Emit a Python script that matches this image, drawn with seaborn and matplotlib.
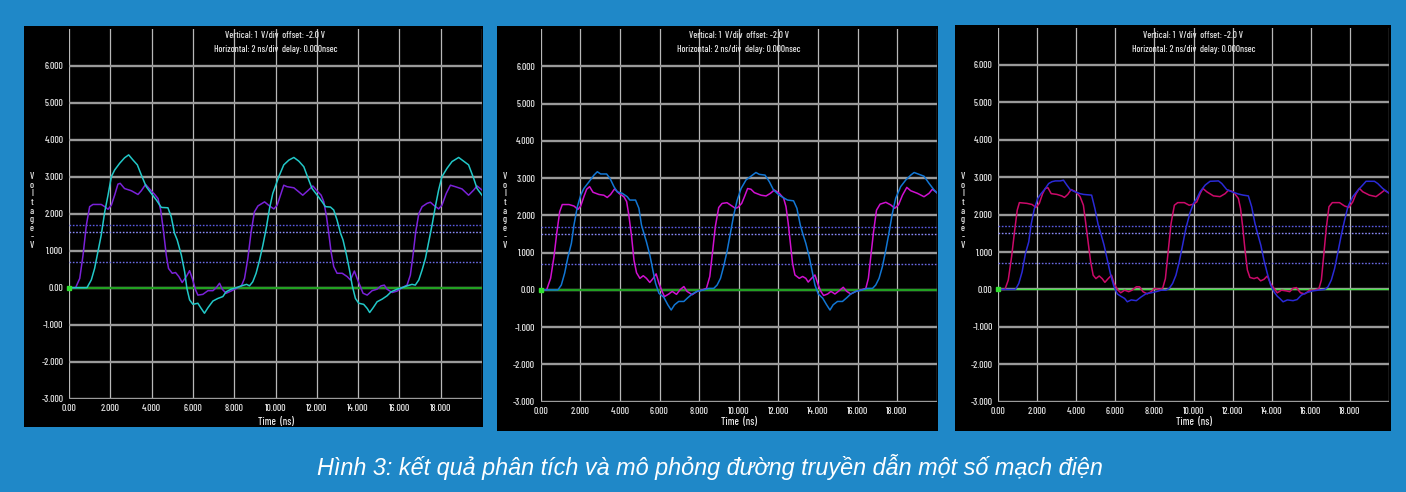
import matplotlib
matplotlib.use("Agg")
import matplotlib.pyplot as plt
from matplotlib.patches import Rectangle
import seaborn as sns
import pandas as pd

W, H = 1406, 492

# ---- axis scales -----------------------------------------------------------
X_TICKS = [0, 2, 4, 6, 8, 10, 12, 14, 16, 18]
X_GRID = [0, 2, 4, 6, 8, 10, 12, 14, 16, 18, 20]
X_LABELS = ["0.00", "2.000", "4.000", "6.000", "8.000", "10.000",
            "12.000", "14.000", "16.000", "18.000"]
Y_TICKS = [-3, -2, -1, 0, 1, 2, 3, 4, 5, 6]
Y_LABELS = ["-3.000", "-2.000", "-1.000", "0.00", "1.000", "2.000",
            "3.000", "4.000", "5.000", "6.000"]
THRESHOLDS = [1.7, 1.5, 0.7]

TITLE_1 = "Vertical: 1  V/div  offset: -2.0 V"
TITLE_2 = "Horizontal: 2 ns/div  delay: 0.000nsec"
X_TITLE = "Time  (ns)"
Y_TITLE = "Voltage - V"
CAPTION = "Hình 3: kết quả phân tích và mô phỏng đường truyền dẫn một số mạch điện"

# ---- waveforms (time ns, voltage V) ----------------------------------------
P1_NEAR = [(0, 0), (0.32, 0), (0.52, 0.25), (0.68, 0.88), (0.84, 1.69), (1.0, 2.19), (1.16, 2.25),
           (1.56, 2.25), (1.73, 2.19), (1.89, 2.12), (2.05, 2.23), (2.21, 2.5), (2.37, 2.80),
           (2.48, 2.82), (2.69, 2.68), (3.02, 2.62), (3.34, 2.52), (3.5, 2.62), (3.71, 2.79),
           (3.9, 2.67), (4.15, 2.52), (4.31, 2.41), (4.44, 2.10), (4.58, 1.51), (4.71, 0.88),
           (4.82, 0.52), (5.0, 0.39), (5.16, 0.41), (5.32, 0.30), (5.48, 0.14), (5.68, 0.30),
           (5.84, 0.46), (5.97, 0.25), (6.13, -0.06), (6.24, -0.20), (6.48, -0.18), (6.73, -0.08),
           (6.97, -0.08), (7.13, 0.0), (7.29, 0.12), (7.42, -0.04), (7.61, -0.15), (7.85, -0.09),
           (8.1, -0.02), (8.35, 0.05), (8.5, 0.25), (8.66, 0.79), (8.82, 1.51), (8.98, 2.05),
           (9.15, 2.21), (9.47, 2.32), (9.71, 2.21), (9.92, 2.13), (10.08, 2.23), (10.24, 2.5),
           (10.4, 2.77), (10.56, 2.73), (10.89, 2.70), (11.13, 2.59), (11.32, 2.5), (11.56, 2.62),
           (11.81, 2.75), (12.02, 2.61), (12.21, 2.5), (12.34, 2.32), (12.47, 1.92), (12.58, 1.47),
           (12.69, 0.97), (12.82, 0.57), (12.98, 0.39), (13.23, 0.39), (13.47, 0.30), (13.63, 0.21),
           (13.82, 0.45), (13.98, 0.21), (14.11, 0.03), (14.24, -0.15), (14.44, -0.2), (14.68, -0.08),
           (14.92, -0.04), (15.11, 0.05), (15.27, 0.07), (15.4, -0.04), (15.65, -0.13), (15.89, -0.09),
           (16.13, 0), (16.37, 0.07), (16.53, 0.34), (16.66, 0.88), (16.79, 1.51), (16.94, 2.0),
           (17.1, 2.19), (17.34, 2.28), (17.5, 2.31), (17.66, 2.23), (17.9, 2.13), (18.06, 2.23),
           (18.27, 2.55), (18.47, 2.77), (18.71, 2.73), (19.03, 2.67), (19.35, 2.5), (19.6, 2.64),
           (19.76, 2.75), (20.0, 2.64)]

P1_FAR = [(0, 0), (0.87, 0), (1.08, 0.21), (1.24, 0.52), (1.40, 0.97), (1.56, 1.42), (1.73, 2.05),
          (1.89, 2.5), (2.05, 3.0), (2.21, 3.18), (2.45, 3.36), (2.69, 3.51), (2.89, 3.59), (3.1, 3.45),
          (3.31, 3.32), (3.5, 3.05), (3.74, 2.73), (3.98, 2.55), (4.23, 2.37), (4.47, 2.17),
          (4.79, 2.16), (4.95, 1.92), (5.11, 1.47), (5.24, 1.29), (5.44, 0.88), (5.6, 0.43),
          (5.71, -0.02), (5.84, -0.33), (6.0, -0.45), (6.24, -0.42), (6.4, -0.56), (6.56, -0.69),
          (6.73, -0.54), (6.97, -0.36), (7.21, -0.29), (7.45, -0.24), (7.61, -0.11), (7.85, -0.04),
          (8.1, 0.0), (8.35, 0.05), (8.6, 0.09), (8.74, 0.05), (8.9, 0.16), (9.06, 0.39), (9.23, 0.75),
          (9.39, 1.15), (9.55, 1.6), (9.71, 2.14), (9.87, 2.55), (10.16, 3.0), (10.4, 3.32),
          (10.65, 3.45), (10.89, 3.52), (11.13, 3.42), (11.37, 3.27), (11.61, 2.91), (11.77, 2.68),
          (12.02, 2.5), (12.26, 2.32), (12.42, 2.19), (12.66, 2.18), (12.82, 2.1), (12.98, 1.83),
          (13.15, 1.47), (13.27, 1.29), (13.44, 0.88), (13.6, 0.43), (13.71, 0.07), (13.87, -0.29),
          (14.03, -0.42), (14.27, -0.45), (14.44, -0.56), (14.56, -0.67), (14.73, -0.54),
          (14.92, -0.38), (15.16, -0.31), (15.4, -0.22), (15.6, -0.11), (15.89, -0.04), (16.13, 0),
          (16.37, 0.05), (16.61, 0.09), (16.77, 0.07), (16.94, 0.21), (17.1, 0.48), (17.26, 0.79),
          (17.42, 1.24), (17.58, 1.69), (17.74, 2.19), (17.9, 2.64), (18.06, 3.0), (18.31, 3.23),
          (18.55, 3.41), (18.87, 3.52), (19.11, 3.42), (19.35, 3.32), (19.6, 2.95), (19.76, 2.68),
          (20, 2.5)]

P2_NEAR = [(0, 0), (0.3, 0), (0.5, 0.31), (0.67, 0.89), (0.81, 1.52), (0.96, 2.1), (1.09, 2.29),
           (1.43, 2.29), (1.68, 2.25), (1.88, 2.16), (2.02, 2.25), (2.18, 2.5), (2.32, 2.7),
           (2.47, 2.77), (2.64, 2.62), (2.94, 2.56), (3.19, 2.54), (3.36, 2.48), (3.53, 2.56),
           (3.73, 2.71), (3.95, 2.59), (4.2, 2.5), (4.34, 2.37), (4.45, 2.01), (4.59, 1.43),
           (4.71, 0.80), (4.84, 0.46), (5.01, 0.31), (5.18, 0.38), (5.34, 0.31), (5.51, 0.2),
           (5.68, 0.31), (5.83, 0.43), (5.97, 0.18), (6.13, -0.04), (6.25, -0.18), (6.47, -0.11),
           (6.64, -0.04), (6.86, -0.12), (7.03, 0), (7.23, 0.09), (7.39, -0.04), (7.65, -0.13),
           (7.9, -0.04), (8.15, 0), (8.37, 0.04), (8.54, 0.36), (8.69, 1.07), (8.82, 1.7),
           (8.99, 2.21), (9.16, 2.32), (9.41, 2.34), (9.66, 2.25), (9.83, 2.19), (9.95, 2.21),
           (10.15, 2.32), (10.29, 2.5), (10.45, 2.72), (10.62, 2.7), (10.79, 2.61), (11.13, 2.54),
           (11.38, 2.52), (11.6, 2.59), (11.8, 2.68), (12.05, 2.59), (12.27, 2.46), (12.39, 2.23),
           (12.5, 1.79), (12.61, 1.25), (12.72, 0.71), (12.84, 0.4), (13.06, 0.31), (13.23, 0.36),
           (13.39, 0.31), (13.51, 0.21), (13.68, 0.31), (13.85, 0.4), (14.02, 0.13), (14.15, -0.04),
           (14.29, -0.15), (14.49, -0.11), (14.66, -0.04), (14.86, -0.11), (15.08, -0.02),
           (15.28, 0.07), (15.46, -0.04), (15.66, -0.11), (15.92, -0.04), (16.17, 0), (16.42, 0.04),
           (16.55, 0.31), (16.67, 0.89), (16.81, 1.56), (16.96, 2.14), (17.14, 2.3), (17.43, 2.35),
           (17.68, 2.28), (17.88, 2.19), (18.07, 2.28), (18.27, 2.54), (18.49, 2.75), (18.69, 2.66),
           (19.03, 2.59), (19.36, 2.5), (19.61, 2.59), (19.78, 2.7), (20, 2.61)]

P2_FAR = [(0, 0), (0.87, 0), (1.04, 0.13), (1.21, 0.45), (1.38, 0.89), (1.55, 1.25), (1.68, 1.74),
          (1.85, 2.23), (2.02, 2.54), (2.18, 2.72), (2.44, 2.9), (2.69, 3.08), (2.86, 3.17),
          (3.03, 3.11), (3.33, 3.11), (3.5, 2.99), (3.7, 2.77), (3.87, 2.63), (4.12, 2.59),
          (4.37, 2.5), (4.5, 2.41), (4.79, 2.41), (4.96, 2.19), (5.09, 1.74), (5.21, 1.52),
          (5.34, 1.29), (5.51, 0.94), (5.68, 0.49), (5.8, 0.18), (5.97, -0.09), (6.22, -0.2),
          (6.42, -0.4), (6.59, -0.54), (6.76, -0.4), (6.97, -0.31), (7.23, -0.31), (7.43, -0.21),
          (7.65, -0.11), (7.9, -0.04), (8.24, 0), (8.49, 0.04), (8.74, 0.04), (8.91, 0.13),
          (9.08, 0.31), (9.24, 0.63), (9.41, 1.03), (9.58, 1.52), (9.75, 2.01), (9.92, 2.40),
          (10.12, 2.72), (10.37, 2.95), (10.62, 3.05), (10.87, 3.15), (11.04, 3.1), (11.33, 3.08),
          (11.55, 2.9), (11.76, 2.68), (12.05, 2.54), (12.3, 2.46), (12.47, 2.41), (12.77, 2.39),
          (12.94, 2.19), (13.11, 1.74), (13.23, 1.52), (13.39, 1.25), (13.56, 0.89), (13.73, 0.45),
          (13.85, 0.13), (14.02, -0.11), (14.24, -0.22), (14.44, -0.4), (14.61, -0.54),
          (14.77, -0.4), (14.99, -0.31), (15.24, -0.31), (15.46, -0.21), (15.66, -0.11),
          (15.92, -0.04), (16.25, 0), (16.5, 0.04), (16.76, 0.04), (16.92, 0.13), (17.09, 0.31),
          (17.26, 0.63), (17.43, 1.07), (17.6, 1.56), (17.76, 2.05), (17.93, 2.46), (18.18, 2.77),
          (18.44, 2.95), (18.69, 3.08), (18.86, 3.15), (19.11, 3.1), (19.36, 3.05), (19.61, 2.86),
          (19.87, 2.68), (20, 2.61)]

P3_NEAR = [(0, 0), (0.34, 0), (0.51, 0.25), (0.68, 0.87), (0.83, 1.54), (0.97, 2.12), (1.08, 2.32),
           (1.47, 2.3), (1.73, 2.27), (1.93, 2.19), (2.1, 2.3), (2.27, 2.56), (2.41, 2.7),
           (2.54, 2.72), (2.71, 2.56), (3.0, 2.54), (3.25, 2.5), (3.39, 2.46), (3.56, 2.54),
           (3.73, 2.67), (3.97, 2.61), (4.19, 2.48), (4.36, 2.25), (4.47, 1.81), (4.61, 1.23),
           (4.73, 0.74), (4.86, 0.38), (5.0, 0.29), (5.17, 0.36), (5.32, 0.29), (5.46, 0.19),
           (5.63, 0.29), (5.8, 0.38), (5.93, 0.16), (6.1, 0), (6.27, -0.09), (6.47, -0.02),
           (6.68, -0.06), (6.85, -0.02), (7.07, 0.07), (7.24, 0.07), (7.41, -0.06), (7.63, -0.12),
           (7.83, -0.06), (8.0, 0.03), (8.25, 0), (8.42, 0.03), (8.56, 0.29), (8.71, 1.05),
           (8.85, 1.76), (9.02, 2.25), (9.19, 2.32), (9.53, 2.32), (9.78, 2.25), (10.0, 2.28),
           (10.17, 2.34), (10.34, 2.56), (10.48, 2.7), (10.68, 2.61), (11.02, 2.5), (11.36, 2.48),
           (11.62, 2.56), (11.79, 2.65), (12.04, 2.61), (12.3, 2.43), (12.41, 2.16), (12.52, 1.67),
           (12.64, 1.05), (12.76, 0.52), (12.89, 0.32), (13.1, 0.29), (13.27, 0.32), (13.44, 0.23),
           (13.61, 0.27), (13.78, 0.36), (13.95, 0.16), (14.12, 0.03), (14.29, -0.09), (14.51, -0.02),
           (14.76, -0.04), (14.93, -0.06), (15.1, 0.03), (15.27, 0.05), (15.48, -0.09), (15.7, -0.12),
           (15.95, -0.02), (16.21, -0.02), (16.43, 0.03), (16.55, 0.25), (16.68, 0.96), (16.8, 1.63),
           (16.94, 2.21), (17.11, 2.32), (17.48, 2.32), (17.74, 2.23), (17.96, 2.19), (18.16, 2.34),
           (18.33, 2.56), (18.5, 2.7), (18.67, 2.61), (19.01, 2.52), (19.35, 2.48), (19.61, 2.58),
           (19.78, 2.65), (20, 2.58)]

P3_FAR = [(0, 0), (0.88, 0), (1.05, 0.16), (1.22, 0.47), (1.39, 0.96), (1.56, 1.27), (1.69, 1.76),
          (1.85, 2.16), (2.02, 2.43), (2.19, 2.56), (2.37, 2.67), (2.58, 2.83), (2.75, 2.88),
          (2.92, 2.9), (3.17, 2.9), (3.34, 2.92), (3.51, 2.79), (3.68, 2.67), (3.93, 2.61),
          (4.19, 2.56), (4.36, 2.54), (4.78, 2.52), (4.95, 2.16), (5.12, 1.72), (5.25, 1.5),
          (5.42, 1.18), (5.59, 0.78), (5.76, 0.38), (5.93, 0.07), (6.1, -0.12), (6.27, -0.18),
          (6.47, -0.24), (6.61, -0.33), (6.81, -0.28), (7.07, -0.3), (7.32, -0.2), (7.58, -0.11),
          (7.83, -0.09), (8.08, -0.06), (8.34, -0.02), (8.59, -0.02), (8.76, 0.03), (8.93, 0.16),
          (9.1, 0.38), (9.27, 0.74), (9.44, 1.18), (9.61, 1.63), (9.81, 2.03), (10.0, 2.3),
          (10.17, 2.43), (10.34, 2.61), (10.6, 2.79), (10.85, 2.89), (11.28, 2.9), (11.45, 2.83),
          (11.7, 2.67), (11.96, 2.61), (12.3, 2.55), (12.55, 2.52), (12.81, 2.5), (12.98, 2.21),
          (13.15, 1.76), (13.28, 1.5), (13.45, 1.18), (13.61, 0.78), (13.78, 0.43), (13.95, 0.12),
          (14.12, -0.06), (14.29, -0.18), (14.42, -0.24), (14.59, -0.33), (14.81, -0.28),
          (15.1, -0.3), (15.31, -0.27), (15.53, -0.15), (15.78, -0.09), (16.09, -0.04),
          (16.38, -0.02), (16.72, 0), (16.89, 0.07), (17.06, 0.25), (17.23, 0.56), (17.4, 1.0),
          (17.57, 1.45), (17.74, 1.85), (17.91, 2.21), (18.16, 2.48), (18.42, 2.65), (18.67, 2.79),
          (18.84, 2.89), (19.27, 2.89), (19.44, 2.83), (19.69, 2.7), (20, 2.58)]

# ---- styling ---------------------------------------------------------------
BG = "#1f88c8"
SMALL_FONT = ["Barlow Condensed", "Archivo Narrow", "DejaVu Sans"]
TXT = "#e6e6e6"

# panel geometry in pixels: black frame box, plot rectangle (left, top, right, bottom)
PANELS = [
    dict(box=(24, 26, 483, 427), plot=(69, 28.7, 482, 398.7), ylab_x=32,
         near=P1_NEAR, far=P1_FAR, c_near="#7a22d8", c_far="#22c8c8",
         zero="#22a022", zero_lw=1.6),
    dict(box=(497, 26, 938, 431), plot=(540.7, 29, 936.7, 401.7), ylab_x=505,
         near=P2_NEAR, far=P2_FAR, c_near="#d010d0", c_far="#1276d4",
         zero="#22a022", zero_lw=1.6),
    dict(box=(955, 25, 1391, 431), plot=(998.3, 27.5, 1388.7, 401.7), ylab_x=963,
         near=P3_NEAR, far=P3_FAR, c_near="#cc0a6a", c_far="#2a2ad6",
         zero="#44e044", zero_lw=1.0),
]

fig = plt.figure(figsize=(W / 100, H / 100), dpi=100, facecolor=BG)


def fx(px):
    return px / W


def fy(py):
    return 1 - py / H


for p in PANELS:
    bx0, by0, bx1, by1 = p["box"]
    fig.add_artist(Rectangle((fx(bx0), fy(by1)), fx(bx1 - bx0), (by1 - by0) / H,
                             transform=fig.transFigure, facecolor="black",
                             edgecolor="none", zorder=0))
    x0, yt, x1, yb = p["plot"]
    ax = fig.add_axes([fx(x0), fy(yb), fx(x1 - x0), (yb - yt) / H])
    ax.set_facecolor("black")
    ax.set_xlim(0, 20)
    ax.set_ylim(-3, 7)
    for s in ax.spines.values():
        s.set_visible(False)

    # grid: thin light verticals, heavier grey horizontals
    for xv in X_GRID:
        ax.axvline(xv, color="#b8b8b8", lw=0.9, zorder=1)
    for yv in Y_TICKS:
        ax.axhline(yv, color="#9a9a9a", lw=1.7, zorder=1)

    # threshold markers and zero reference
    for yv, c in zip(THRESHOLDS, ["#5a5ae0", "#8a8af8", "#6a6ae4"]):
        ax.axhline(yv, color=c, lw=1.0, ls=(0, (1.2, 1.2)), zorder=2)
    ax.axhline(0, color=p["zero"], lw=p["zero_lw"], zorder=2)
    ax.plot([0], [0], marker="s", ms=2.5, color="#30e030", clip_on=False, zorder=5)

    for pts, c in ((p["near"], p["c_near"]), (p["far"], p["c_far"])):
        df = pd.DataFrame(pts, columns=["t", "v"])
        sns.lineplot(data=df, x="t", y="v", ax=ax, color=c, linewidth=1.1,
                     estimator=None, sort=False, legend=False, zorder=3)

    ax.set_xticks(X_TICKS)
    ax.set_xticklabels(X_LABELS)
    ax.set_yticks(Y_TICKS)
    ax.set_yticklabels(Y_LABELS)
    ax.tick_params(length=0, colors=TXT, labelsize=7, pad=4)
    for lab in ax.get_xticklabels() + ax.get_yticklabels():
        lab.set_family(SMALL_FONT)
        lab.set_weight("medium")
    ax.set_xlabel("")
    ax.set_ylabel("")

    cx = fx((x0 + x1) / 2)
    fig.text(cx, fy(35.7), TITLE_1, ha="center", va="center", color=TXT,
             fontsize=6.8, family=SMALL_FONT, weight="medium")
    fig.text(cx, fy(49.3), TITLE_2, ha="center", va="center", color=TXT,
             fontsize=6.8, family=SMALL_FONT, weight="medium")
    fig.text(cx, fy(421.5), X_TITLE, ha="center", va="center", color=TXT,
             fontsize=7.5, family=SMALL_FONT, weight="medium")
    fig.text(fx(p["ylab_x"]), fy(211), "\n".join(Y_TITLE.replace(" ", "")),
             ha="center", va="center", color=TXT, fontsize=7,
             family=SMALL_FONT, weight="medium", linespacing=0.95)

fig.text(fx(710), fy(467), CAPTION, ha="center", va="center", color="white",
         fontsize=16.8, style="italic", family=["Liberation Sans", "DejaVu Sans"])

fig.savefig("out.png", dpi=100, facecolor=BG)
